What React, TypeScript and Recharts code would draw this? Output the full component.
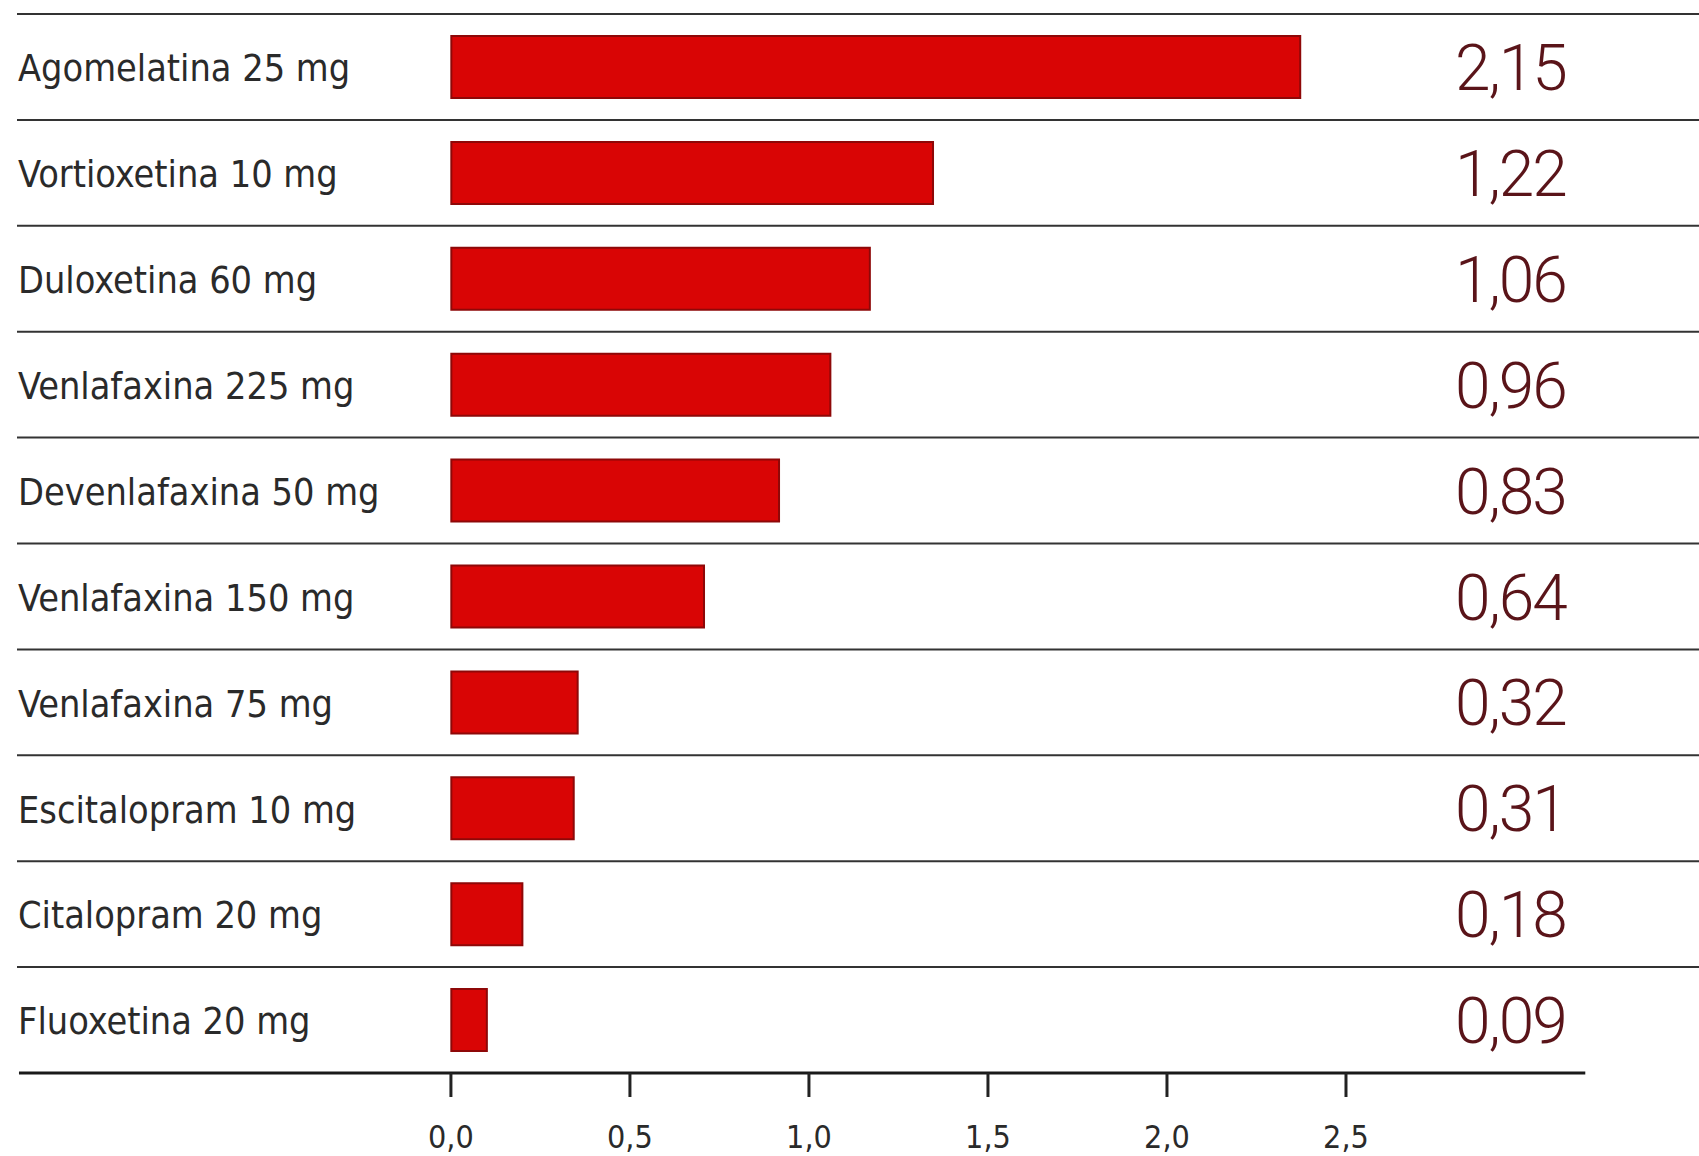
import React from 'react';
import { BarChart, Bar, XAxis, YAxis, ReferenceArea, LabelList } from 'recharts';

const drugs = [
  'Agomelatina 25 mg',
  'Vortioxetina 10 mg',
  'Duloxetina 60 mg',
  'Venlafaxina 225 mg',
  'Devenlafaxina 50 mg',
  'Venlafaxina 150 mg',
  'Venlafaxina 75 mg',
  'Escitalopram 10 mg',
  'Citalopram 20 mg',
  'Fluoxetina 20 mg',
];
const values = [2.15, 1.22, 1.06, 0.96, 0.83, 0.64, 0.32, 0.31, 0.18, 0.09];
const axisTicks = [0, 0.5, 1, 1.5, 2, 2.5];

const data = drugs.map((name, i) => ({ name, value: values[i] }));

const W = 1699;
const H = 1156;
const VALUE_X = 1455;
const fmt = (v: number, d: number) => v.toFixed(d).replace('.', ',');

const labelFont = '"DejaVu Sans Condensed", "Liberation Sans Narrow", "Roboto", sans-serif';

const ValueLabel = (props: any) => {
  const { y, height, value } = props;
  return (
    <text
      x={VALUE_X}
      y={y + height / 2}
      dy="0.36em"
      fill="#5a1419"
      fontSize={64}
      fontWeight={300}
      letterSpacing={-2}
      fontFamily='"Roboto", "Liberation Sans Narrow", sans-serif'
    >
      {fmt(Number(value), 2)}
    </text>
  );
};

const DrugTick = (props: any) => {
  const { x, y, payload } = props;
  return (
    <text x={x} y={y} dy="0.38em" textAnchor="start" fill="#2a2a2a" fontSize={37.5} fontFamily={labelFont}>
      {payload.value}
    </text>
  );
};

// top edge of each row band -> separator line
const RowTop = (props: any) => {
  const { x, y, width } = props;
  return <line x1={x} x2={x + width} y1={y} y2={y} stroke="#333" strokeWidth={2} />;
};

// bottom edge of last band -> axis line
const RowBottom = (props: any) => {
  const { x, y, width, height } = props;
  return <line x1={x} x2={x + width} y1={y + height} y2={y + height} stroke="#1a1a1a" strokeWidth={3} />;
};

export default function App() {
  return (
    <div style={{ position: 'absolute', left: 0, top: 0, width: W, height: H, background: '#fff' }}>
      <BarChart
        width={W}
        height={H}
        data={data}
        layout="vertical"
        margin={{ top: 14, right: 0, left: 17, bottom: 0 }}
        barCategoryGap={0}
      >
        <XAxis
          xAxisId="tick"
          type="number"
          domain={[-1.212, 3.486]}
          ticks={axisTicks}
          axisLine={false}
          tickLine={{ stroke: '#222', strokeWidth: 3 }}
          tickSize={24}
          tickMargin={28}
          height={83}
          tick={{ fill: '#2a2a2a', fontSize: 32, fontFamily: labelFont }}
          tickFormatter={(v: number) => fmt(v, 1)}
          allowDataOverflow
        />
        <XAxis xAxisId="bar" type="number" domain={[-1.1, 3.16]} height={0} hide allowDataOverflow />
        <YAxis
          yAxisId="cat"
          type="category"
          dataKey="name"
          mirror
          axisLine={false}
          tickLine={false}
          tickSize={0}
          tickMargin={1}
          tick={<DrugTick />}
          interval={0}
        />
        {drugs.map((d) => (
          <ReferenceArea
            key={d}
            xAxisId="bar"
            yAxisId="cat"
            y1={d}
            y2={d}
            shape={<RowTop />}
            ifOverflow="visible"
          />
        ))}
        <ReferenceArea
          xAxisId="bar"
          yAxisId="cat"
          x1={-1.095}
          x2={2.872}
          y1={drugs[drugs.length - 1]}
          y2={drugs[drugs.length - 1]}
          shape={<RowBottom />}
          ifOverflow="visible"
        />
        <Bar
          dataKey="value"
          xAxisId="bar"
          yAxisId="cat"
          barSize={62}
          fill="#d90505"
          stroke="#8e0808"
          strokeWidth={2}
          isAnimationActive={false}
        >
          <LabelList dataKey="value" content={<ValueLabel />} />
        </Bar>
      </BarChart>
    </div>
  );
}
